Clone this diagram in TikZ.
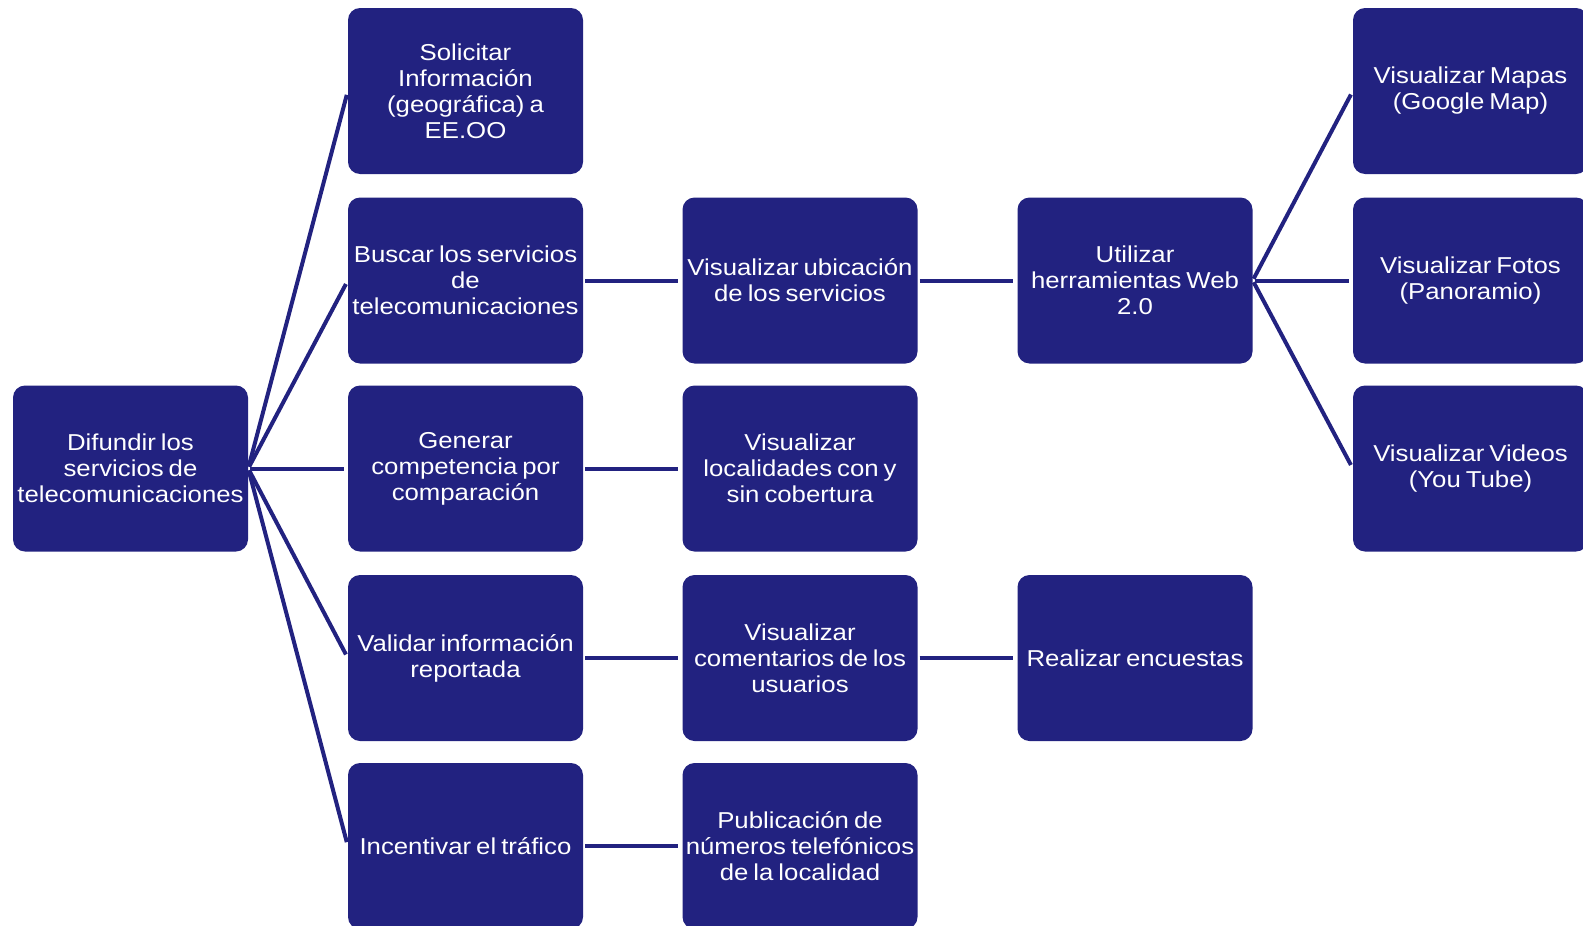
\documentclass[tikz,border=0pt]{standalone}
\usepackage{fontspec}
\setmainfont[FakeStretch=1.12,WordSpace=0.7]{Liberation Sans}
\usepackage{tikz}
\usetikzlibrary{positioning}
\definecolor{navyblue}{RGB}{34,34,128}

\begin{document}
\begin{tikzpicture}[
  x=1pt, y=-1pt,
  task/.style={fill=navyblue, rounded corners=12pt, minimum width=235pt, minimum height=166pt,
               inner sep=2pt, align=center, text=white, font=\fontsize{23}{26}\selectfont},
  link/.style={draw=navyblue, line width=4pt, shorten <=2pt, shorten >=4pt}
]
\useasboundingbox (0,0) rectangle (1583,926);
\clip (0,0) rectangle (1583,926);

% --- Root ---
\node[task] (root) at (130.5,468.5) {Difundir los\\servicios de\\telecomunicaciones};

% --- Second level ---
\node[task] (solicitar) at (465.5,91)    {Solicitar\\Información\\(geográfica) a\\EE.OO};
\node[task] (buscar)    at (465.5,280.5) {Buscar los servicios\\de\\telecomunicaciones};
\node[task] (generar)   at (465.5,468.5) {Generar\\competencia por\\comparación};
\node[task] (validar)   at (465.5,658)   {Validar información\\reportada};
\node[task] (incentivar) at (465.5,846)  {Incentivar el tráfico};

% --- Third level ---
\node[task] (ubicacion)   at (800,280.5) {Visualizar ubicación\\de los servicios};
\node[task] (localidades) at (800,468.5) {Visualizar\\localidades con y\\sin cobertura};
\node[task] (comentarios) at (800,658)   {Visualizar\\comentarios de los\\usuarios};
\node[task] (publicacion) at (800,846)   {Publicación de\\números telefónicos\\de la localidad};

% --- Fourth level ---
\node[task] (web)       at (1135,280.5) {Utilizar\\herramientas Web\\2.0};
\node[task] (encuestas) at (1135,658)   {Realizar encuestas};

% --- Fifth level ---
\node[task] (mapas)  at (1470.5,91)    {Visualizar Mapas\\(Google Map)};
\node[task] (fotos)  at (1470.5,280.5) {Visualizar Fotos\\(Panoramio)};
\node[task] (videos) at (1470.5,468.5) {Visualizar Videos\\(You Tube)};

% --- Connectors ---
\foreach \kid in {solicitar,buscar,generar,validar,incentivar}
  \draw[link] (root.east) -- (\kid.west);
\draw[link] (buscar.east) -- (ubicacion.west);
\draw[link] (generar.east) -- (localidades.west);
\draw[link] (validar.east) -- (comentarios.west);
\draw[link] (incentivar.east) -- (publicacion.west);
\draw[link] (ubicacion.east) -- (web.west);
\draw[link] (comentarios.east) -- (encuestas.west);
\foreach \kid in {mapas,fotos,videos}
  \draw[link] (web.east) -- (\kid.west);

\end{tikzpicture}
\end{document}
